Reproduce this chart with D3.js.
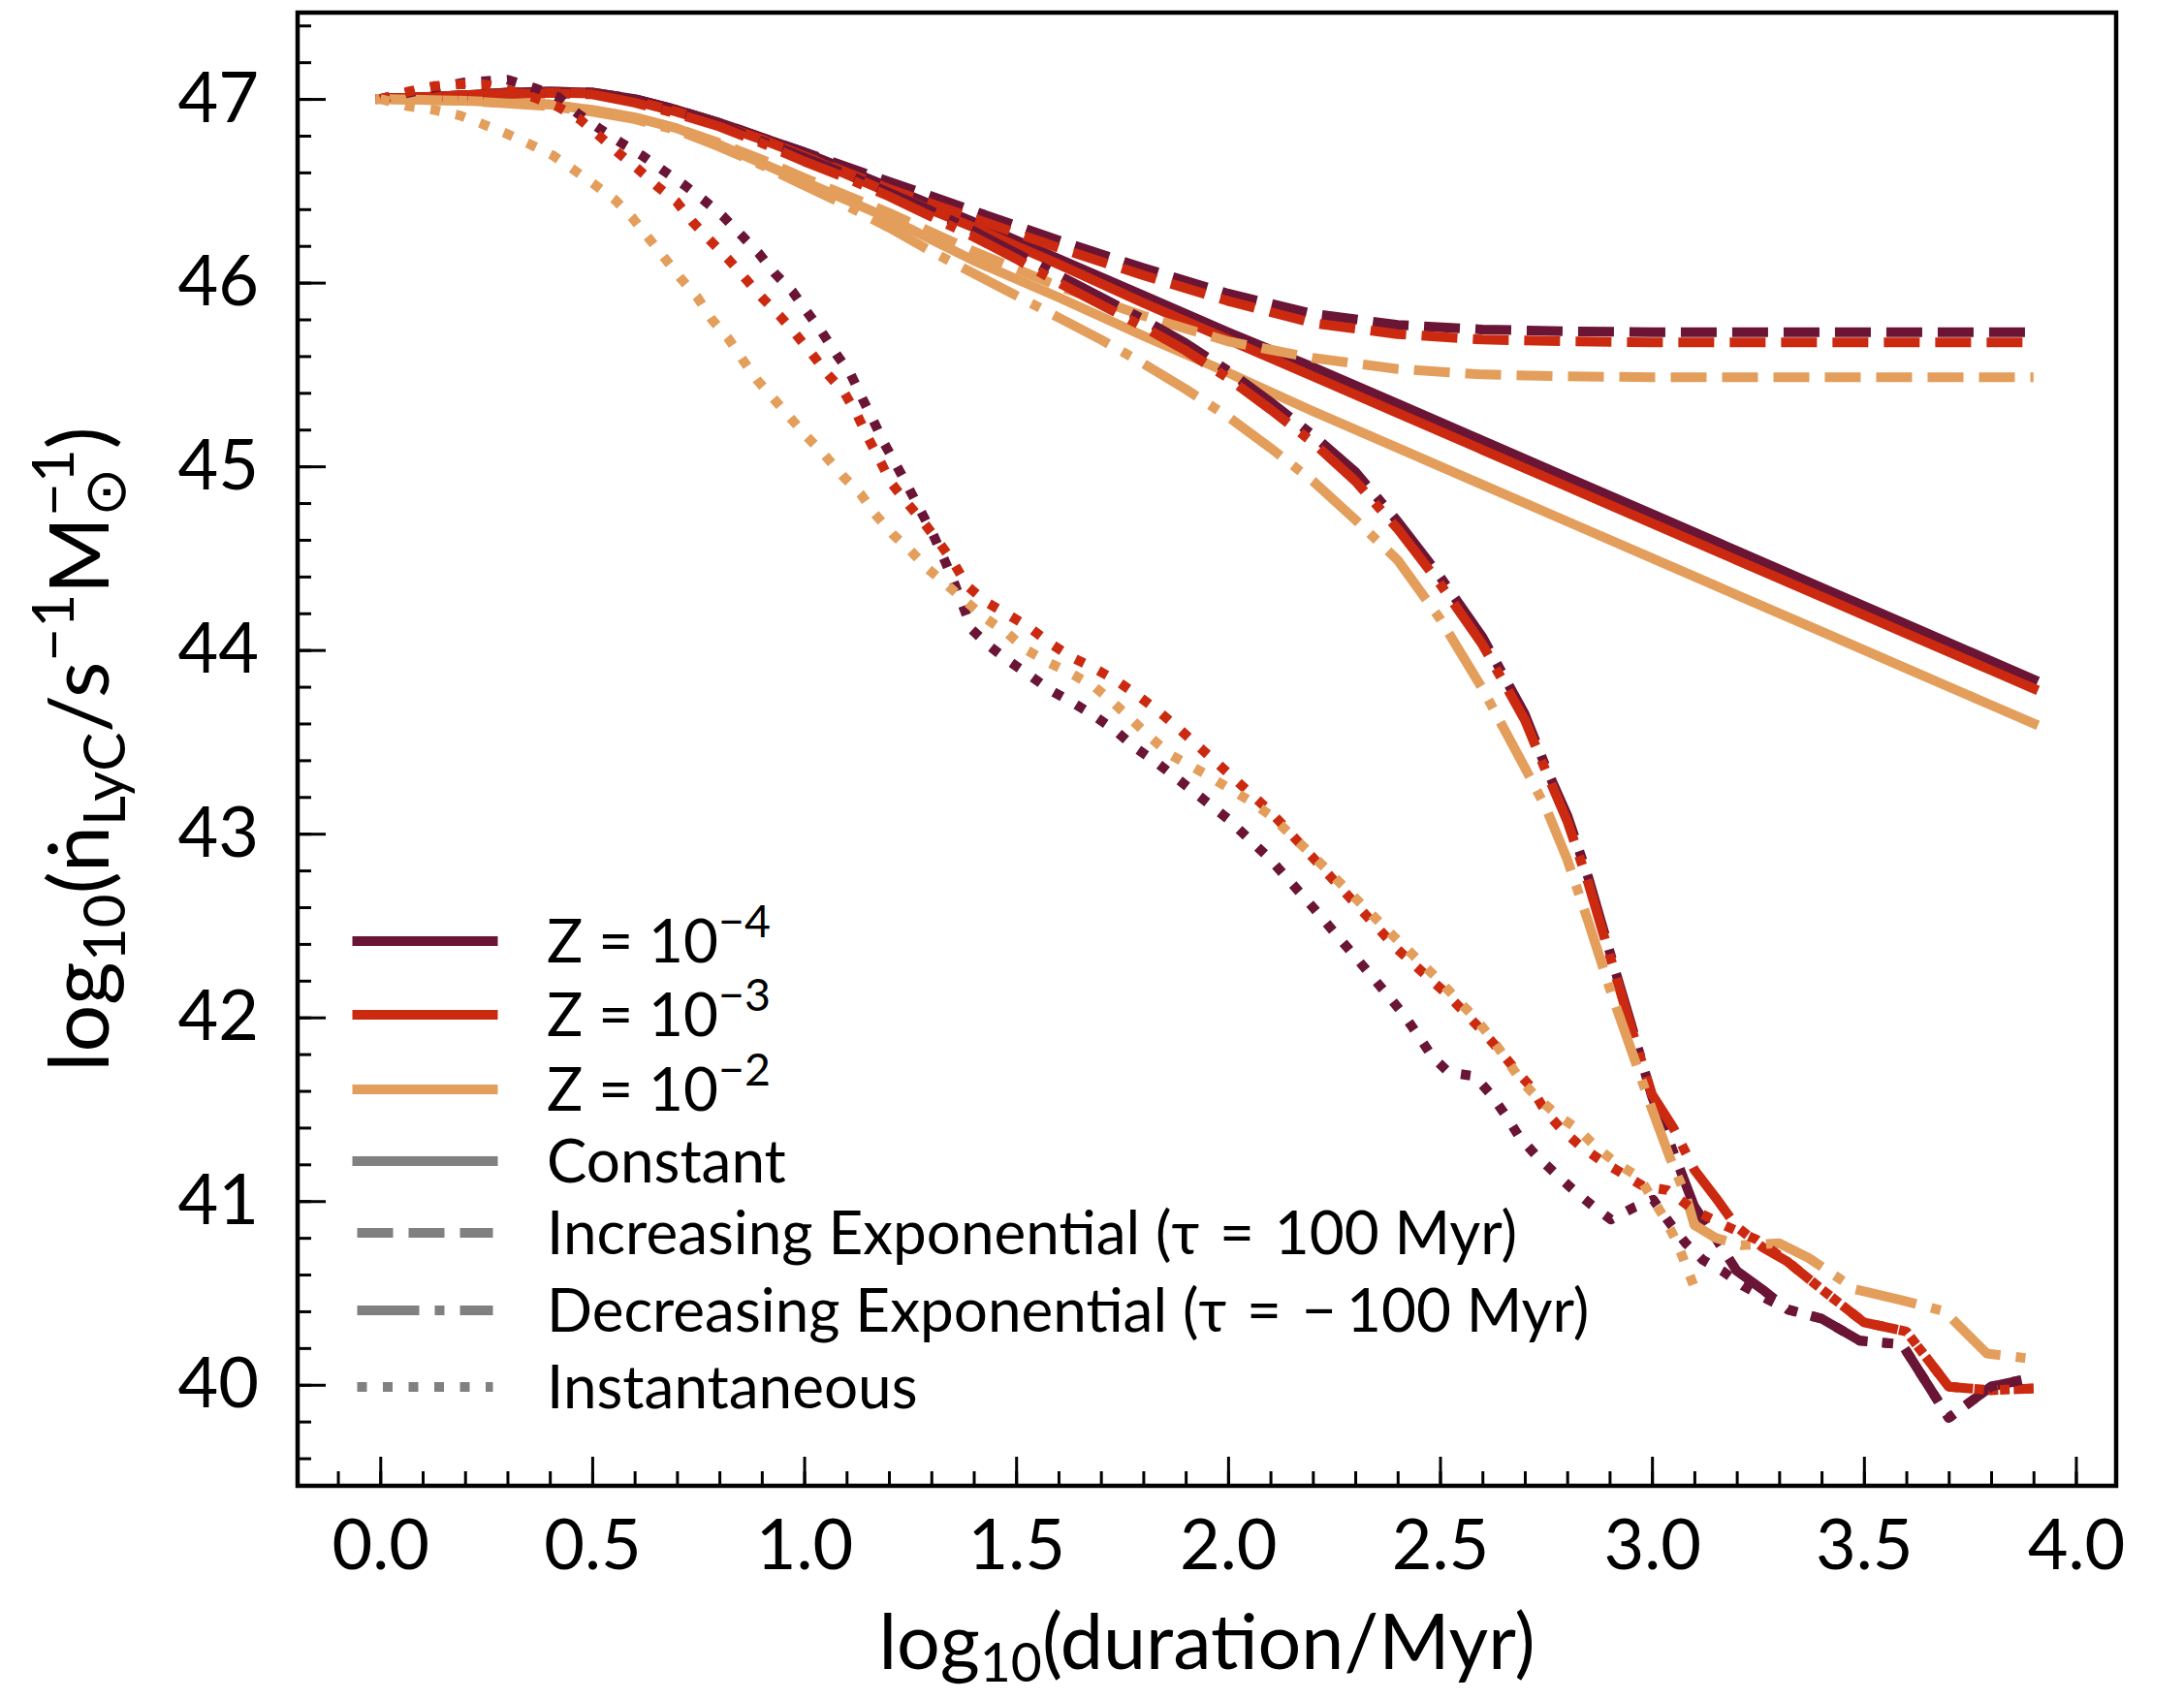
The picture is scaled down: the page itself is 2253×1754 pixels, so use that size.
<!DOCTYPE html>
<html>
<head>
<meta charset="utf-8">
<script src="https://cdn.jsdelivr.net/npm/d3@7"></script>
<style>
  body { margin: 0; background: #fff; }
  svg { display: block; }
  text { font-family: Lato, "Open Sans", "DejaVu Sans", sans-serif; fill: #000; }
</style>
</head>
<body>
<svg id="chart" width="2253" height="1754"></svg>
<script>
// ---- Data: log10(LyC photon rate per solar mass) vs log10(duration / Myr) ----
// Metallicities (colour) and star-formation histories (line style)
const metallicities = ["Z4", "Z3", "Z2"];
const metallicityExponents = ["\u22124", "\u22123", "\u22122"];
const historyLabels = [
  "Constant",
  "Increasing Exponential (\u03c4\u2004=\u2004100 Myr)",
  "Decreasing Exponential (\u03c4\u2004=\u2004\u2212\u2006100 Myr)",
  "Instantaneous"
];

// Constant star formation
const constZ4 = [[0,47.0],[0.1,47.01],[0.2,47.02],[0.3,47.035],[0.4,47.04],[0.5,47.035],[0.6,47.0],[0.7,46.94],[0.8,46.87],[0.9,46.79],[1.0,46.71],[1.2,46.52],[1.4,46.33],[1.6,46.13],[1.8,45.93],[2.0,45.73],[2.2,45.54],[2.4,45.34],[2.6,45.14],[2.8,44.94],[3.0,44.74],[3.2,44.54],[3.4,44.34],[3.6,44.14],[3.8,43.94],[3.9,43.84]];
const constZ3 = [[0,47.0],[0.1,47.01],[0.2,47.02],[0.3,47.03],[0.4,47.035],[0.5,47.03],[0.6,46.99],[0.7,46.93],[0.8,46.86],[0.9,46.78],[1.0,46.69],[1.2,46.49],[1.4,46.30],[1.6,46.10],[1.8,45.89],[2.0,45.69],[2.2,45.49],[2.4,45.29],[2.6,45.09],[2.8,44.89],[3.0,44.69],[3.2,44.49],[3.4,44.29],[3.6,44.09],[3.8,43.89],[3.9,43.79]];
const constZ2 = [[0,47.0],[0.2,46.99],[0.4,46.97],[0.5,46.94],[0.6,46.90],[0.7,46.84],[0.8,46.75],[0.9,46.65],[1.0,46.55],[1.2,46.35],[1.4,46.12],[1.6,45.92],[1.8,45.71],[2.0,45.51],[2.2,45.30],[2.4,45.10],[2.6,44.90],[2.8,44.70],[3.0,44.50],[3.2,44.30],[3.4,44.10],[3.6,43.90],[3.8,43.70],[3.9,43.60]];

// Increasing exponential, tau = 100 Myr
const incZ4 = [[0,47.0],[0.1,47.01],[0.2,47.02],[0.3,47.035],[0.4,47.04],[0.5,47.035],[0.6,47.0],[0.7,46.94],[0.8,46.87],[0.9,46.79],[1.0,46.71],[1.1,46.63],[1.2,46.55],[1.3,46.47],[1.4,46.39],[1.5,46.31],[1.6,46.23],[1.8,46.08],[2.0,45.94],[2.2,45.83],[2.4,45.77],[2.6,45.745],[2.8,45.735],[3.0,45.73],[3.5,45.73],[3.9,45.73]];
const incZ3 = [[0,47.0],[0.1,47.01],[0.2,47.02],[0.3,47.03],[0.4,47.035],[0.5,47.03],[0.6,46.99],[0.7,46.93],[0.8,46.86],[0.9,46.78],[1.0,46.69],[1.1,46.60],[1.2,46.51],[1.3,46.43],[1.4,46.35],[1.5,46.27],[1.6,46.19],[1.8,46.04],[2.0,45.90],[2.2,45.78],[2.4,45.72],[2.6,45.69],[2.8,45.68],[3.0,45.675],[3.5,45.675],[3.9,45.675]];
const incZ2 = [[0,47.0],[0.2,46.99],[0.4,46.97],[0.5,46.94],[0.6,46.90],[0.7,46.84],[0.8,46.76],[0.9,46.67],[1.0,46.57],[1.2,46.38],[1.4,46.17],[1.6,45.98],[1.8,45.82],[2.0,45.68],[2.2,45.59],[2.4,45.53],[2.6,45.50],[2.8,45.49],[3.0,45.485],[3.5,45.485],[3.9,45.485]];

// Decreasing exponential, tau = -100 Myr
const decZ4 = [[0,47.0],[0.1,47.01],[0.2,47.02],[0.3,47.03],[0.4,47.035],[0.5,47.03],[0.6,46.99],[0.7,46.93],[0.8,46.86],[0.9,46.77],[1.0,46.68],[1.1,46.59],[1.2,46.49],[1.3,46.39],[1.4,46.28],[1.5,46.16],[1.6,46.04],[1.7,45.92],[1.8,45.80],[1.9,45.67],[2.0,45.52],[2.1,45.35],[2.2,45.17],[2.3,44.97],[2.4,44.70],[2.5,44.40],[2.6,44.07],[2.7,43.65],[2.75,43.36],[2.8,43.10],[2.85,42.76],[2.9,42.36],[2.95,41.97],[3.0,41.57],[3.05,41.27],[3.1,40.97],[3.15,40.80],[3.2,40.62],[3.26,40.52],[3.32,40.41],[3.4,40.36],[3.49,40.24],[3.59,40.22],[3.7,39.82],[3.8,39.99],[3.9,40.04]];
const decZ3 = [[0,47.0],[0.1,47.01],[0.2,47.02],[0.3,47.03],[0.4,47.03],[0.5,47.025],[0.6,46.98],[0.7,46.92],[0.8,46.85],[0.9,46.76],[1.0,46.66],[1.1,46.57],[1.2,46.47],[1.3,46.36],[1.4,46.25],[1.5,46.13],[1.6,46.00],[1.7,45.88],[1.8,45.76],[1.9,45.63],[2.0,45.48],[2.1,45.31],[2.2,45.13],[2.3,44.92],[2.4,44.66],[2.5,44.36],[2.6,44.03],[2.7,43.62],[2.75,43.34],[2.8,43.07],[2.85,42.73],[2.9,42.34],[2.95,41.95],[3.0,41.58],[3.05,41.40],[3.1,41.17],[3.15,41.02],[3.2,40.86],[3.26,40.75],[3.32,40.67],[3.4,40.52],[3.5,40.34],[3.6,40.29],[3.7,39.99],[3.8,39.97],[3.9,39.98]];
const decZ2 = [[0,47.0],[0.2,46.99],[0.4,46.96],[0.5,46.93],[0.6,46.89],[0.7,46.83],[0.8,46.74],[0.9,46.64],[1.0,46.53],[1.1,46.42],[1.2,46.30],[1.3,46.17],[1.4,46.05],[1.5,45.93],[1.6,45.81],[1.7,45.69],[1.8,45.56],[1.9,45.42],[2.0,45.27],[2.1,45.10],[2.2,44.92],[2.3,44.71],[2.4,44.49],[2.5,44.17],[2.6,43.79],[2.7,43.36],[2.75,43.14],[2.8,42.86],[2.85,42.52],[2.9,42.16],[2.95,41.83],[3.0,41.50],[3.04,41.25],[3.08,41.03],[3.1,40.87],[3.15,40.80],[3.21,40.76],[3.3,40.77],[3.37,40.69],[3.48,40.52],[3.59,40.46],[3.69,40.40],[3.79,40.17],[3.9,40.14]];

// Instantaneous burst
const instZ4 = [[0,47.0],[0.1,47.05],[0.2,47.09],[0.3,47.105],[0.363,47.06],[0.42,47.01],[0.466,46.92],[0.516,46.84],[0.569,46.76],[0.619,46.69],[0.668,46.61],[0.718,46.53],[0.763,46.45],[0.809,46.36],[0.851,46.26],[0.893,46.16],[0.931,46.05],[0.973,45.95],[1.007,45.84],[1.042,45.73],[1.076,45.61],[1.11,45.50],[1.137,45.37],[1.163,45.25],[1.19,45.12],[1.219,45.00],[1.247,44.88],[1.274,44.76],[1.304,44.63],[1.327,44.51],[1.35,44.39],[1.373,44.25],[1.396,44.11],[1.438,44.02],[1.483,43.94],[1.533,43.86],[1.582,43.78],[1.636,43.71],[1.685,43.64],[1.735,43.56],[1.78,43.47],[1.83,43.39],[1.88,43.30],[2.0,43.08],[2.1,42.86],[2.2,42.60],[2.3,42.33],[2.377,42.12],[2.416,42.01],[2.449,41.90],[2.482,41.785],[2.521,41.70],[2.582,41.68],[2.62,41.58],[2.654,41.47],[2.687,41.35],[2.726,41.25],[2.77,41.155],[2.815,41.06],[2.859,40.976],[2.903,40.90],[2.959,40.967],[3.003,41.007],[3.042,40.88],[3.08,40.77],[3.12,40.68],[3.169,40.615],[3.214,40.54],[3.269,40.47],[3.32,40.41],[3.4,40.36],[3.49,40.24],[3.59,40.22],[3.7,39.82],[3.8,39.99],[3.9,40.04]];
const instZ3 = [[0,47.0],[0.066,47.04],[0.127,47.07],[0.188,47.08],[0.245,47.08],[0.3,47.05],[0.36,47.01],[0.417,46.96],[0.47,46.89],[0.516,46.80],[0.56,46.71],[0.607,46.62],[0.653,46.525],[0.699,46.44],[0.737,46.33],[0.778,46.23],[0.82,46.13],[0.862,46.02],[0.9,45.92],[0.942,45.82],[0.98,45.72],[1.019,45.61],[1.056,45.50],[1.095,45.40],[1.125,45.28],[1.152,45.15],[1.179,45.03],[1.205,44.91],[1.243,44.80],[1.28,44.70],[1.32,44.58],[1.354,44.47],[1.384,44.35],[1.43,44.26],[1.483,44.19],[1.533,44.12],[1.578,44.04],[1.632,43.96],[1.685,43.90],[1.739,43.83],[1.788,43.75],[1.834,43.67],[1.88,43.58],[2.0,43.33],[2.1,43.12],[2.2,42.87],[2.3,42.62],[2.4,42.37],[2.471,42.22],[2.515,42.13],[2.557,42.03],[2.598,41.93],[2.637,41.83],[2.676,41.72],[2.715,41.62],[2.748,41.49],[2.787,41.39],[2.831,41.30],[2.88,41.22],[2.93,41.15],[2.98,41.08],[3.036,41.06],[3.1,40.95],[3.169,40.87],[3.247,40.79],[3.32,40.67],[3.4,40.52],[3.5,40.34],[3.6,40.29],[3.7,39.99],[3.8,39.97],[3.9,39.98]];
const instZ2 = [[0,47.0],[0.066,46.96],[0.127,46.94],[0.188,46.91],[0.245,46.86],[0.299,46.81],[0.356,46.75],[0.409,46.69],[0.459,46.61],[0.508,46.53],[0.554,46.45],[0.596,46.35],[0.634,46.24],[0.672,46.13],[0.71,46.02],[0.748,45.92],[0.782,45.80],[0.82,45.70],[0.855,45.58],[0.889,45.47],[0.931,45.36],[0.969,45.26],[1.007,45.16],[1.049,45.06],[1.09,44.95],[1.133,44.85],[1.167,44.74],[1.209,44.63],[1.251,44.54],[1.293,44.44],[1.339,44.35],[1.384,44.26],[1.43,44.17],[1.48,44.09],[1.525,44.00],[1.578,43.93],[1.632,43.87],[1.685,43.80],[1.731,43.71],[1.773,43.62],[1.819,43.52],[1.864,43.43],[1.95,43.32],[2.05,43.18],[2.1,43.10],[2.2,42.88],[2.3,42.65],[2.4,42.42],[2.499,42.20],[2.543,42.09],[2.582,42.0],[2.62,41.89],[2.654,41.78],[2.693,41.65],[2.731,41.56],[2.776,41.47],[2.826,41.39],[2.87,41.29],[2.92,41.20],[2.97,41.13],[3.03,40.905],[3.058,40.78],[3.08,40.65],[3.1,40.53]];

// Axis ticks
const xMajorTicks = [0.0, 0.5, 1.0, 1.5, 2.0, 2.5, 3.0, 3.5, 4.0];
const yMajorTicks = [40, 41, 42, 43, 44, 45, 46, 47];

// ---- Styles ----
const colours = { Z4: "#6a1535", Z3: "#cc2a10", Z2: "#e39e5c" };
const legendGrey = "#808080";
const LW = 10;
const styles = {
  solid:   { dash: null,            cap: "square" },
  dashed:  { dash: "37,16",         cap: "butt" },
  dashdot: { dash: "64,16,10,16",   cap: "butt" },
  dotted:  { dash: "10,16.5",       cap: "butt" }
};

// Drawing order: each history in turn, all metallicities inside it
const series = [
  { style: "solid",   Z: "Z4", data: constZ4 }, { style: "solid",   Z: "Z3", data: constZ3 }, { style: "solid",   Z: "Z2", data: constZ2 },
  { style: "dashed",  Z: "Z4", data: incZ4 },   { style: "dashed",  Z: "Z3", data: incZ3 },   { style: "dashed",  Z: "Z2", data: incZ2 },
  { style: "dashdot", Z: "Z4", data: decZ4 },   { style: "dashdot", Z: "Z3", data: decZ3 },   { style: "dashdot", Z: "Z2", data: decZ2 },
  { style: "dotted",  Z: "Z4", data: instZ4 },  { style: "dotted",  Z: "Z3", data: instZ3 },  { style: "dotted",  Z: "Z2", data: instZ2 }
];

// ---- Layout ----
const plot = { left: 307, right: 2183, top: 13, bottom: 1533 };
const svg = d3.select("#chart");

const x = d3.scaleLinear().domain([-0.195, 4.095]).range([plot.left, plot.right]);
const y = d3.scaleLinear().domain([39.45, 47.47]).range([plot.bottom, plot.top]);

const tickFont = 72;

// Minor ticks (no labels)
const xMinor = d3.range(-1, 41).map(i => i / 10).filter(v => v > -0.195 && v < 4.095);
const yMinor = d3.range(197, 238).map(i => i / 5).filter(v => v > 39.45 && v < 47.47);

const xAxisMinor = d3.axisBottom(x).tickValues(xMinor).tickSize(-15).tickFormat("");
const xAxisMajor = d3.axisBottom(x).tickValues(xMajorTicks).tickSize(-30).tickPadding(35).tickFormat(d3.format(".1f"));
const yAxisMinor = d3.axisLeft(y).tickValues(yMinor).tickSize(-14).tickFormat("");
const yAxisMajor = d3.axisLeft(y).tickValues(yMajorTicks).tickSize(-29).tickPadding(40).tickFormat(d3.format("d"));

function styleAxis(g) {
  g.select(".domain").remove();
  g.selectAll(".tick line").attr("stroke", "#000").attr("stroke-width", 3);
  g.selectAll(".tick text").attr("font-size", tickFont).attr("fill", "#000")
    .style("font-family", "Lato, 'Open Sans', sans-serif");
}

svg.append("g").attr("transform", `translate(0,${plot.bottom})`).call(xAxisMinor).call(styleAxis);
svg.append("g").attr("transform", `translate(0,${plot.bottom})`).call(xAxisMajor).call(styleAxis);
svg.append("g").attr("transform", `translate(${plot.left},0)`).call(yAxisMinor).call(styleAxis);
svg.append("g").attr("transform", `translate(${plot.left},0)`).call(yAxisMajor).call(styleAxis);

// ---- Curves ----
const line = d3.line().x(d => x(d[0])).y(d => y(d[1]));
const curves = svg.append("g").attr("class", "curves");
series.forEach(s => {
  const st = styles[s.style];
  curves.append("path")
    .datum(s.data)
    .attr("d", line)
    .attr("fill", "none")
    .attr("stroke", colours[s.Z])
    .attr("stroke-width", LW)
    .attr("stroke-linejoin", "round")
    .attr("stroke-linecap", st.cap)
    .attr("stroke-dasharray", st.dash);
});

// ---- Frame ----
svg.append("rect")
  .attr("x", plot.left).attr("y", plot.top)
  .attr("width", plot.right - plot.left).attr("height", plot.bottom - plot.top)
  .attr("fill", "none").attr("stroke", "#000").attr("stroke-width", 4.5);

// ---- Rich text helper (sub/superscripts) ----
function richText(textSel, parts, size) {
  let cur = 0;
  let prev = null;
  parts.forEach(p => {
    const off = p.s === "sub" ? (p.shift || 0.2) * size : p.s === "sup" ? -0.42 * size : 0;
    const ts = textSel.append("tspan").text(p.t).attr("dy", off - cur);
    if (p.s) ts.attr("font-size", size * (p.scale || 0.7));
    if (p.stackOn && prev) ts.attr("dx", -prev.node().getComputedTextLength());
    cur = off;
    prev = ts;
  });
}

// ---- Axis labels ----
const xLabelSize = 79;
const xLabel = svg.append("text")
  .attr("x", (plot.left + plot.right) / 2).attr("y", 1722)
  .attr("text-anchor", "middle").attr("font-size", xLabelSize);
richText(xLabel, [{ t: "log" }, { t: "10", s: "sub", shift: 0.16 }, { t: "(duration/Myr)" }], xLabelSize);

const yLabelSize = 86;
const yLabel = svg.append("text")
  .attr("transform", `translate(112,${(plot.top + plot.bottom) / 2}) rotate(-90)`)
  .attr("text-anchor", "middle").attr("font-size", yLabelSize);
richText(yLabel, [
  { t: "log" }, { t: "10", s: "sub" }, { t: "(\u1e45" }, { t: "LyC", s: "sub" },
  { t: "/s" }, { t: "\u22121", s: "sup" }, { t: "M" }, { t: "\u2299", s: "sub" },
  { t: "\u22121", s: "sup", stackOn: true }, { t: ")" }
], yLabelSize);

// ---- Legend ----
const legendFont = 62;
const legendRows = [971, 1047, 1124, 1198, 1272, 1352, 1431];
const handleX0 = 368.5, handleX1 = 508.5, labelX = 564;
const legendEntries = [
  ...metallicities.map((z, i) => ({ colour: colours[z], style: "solid", label: [{ t: "Z = 10" }, { t: metallicityExponents[i], s: "sup", scale: 0.75 }] })),
  { colour: legendGrey, style: "solid",   label: [{ t: historyLabels[0] }] },
  { colour: legendGrey, style: "dashed",  label: [{ t: historyLabels[1] }] },
  { colour: legendGrey, style: "dashdot", label: [{ t: historyLabels[2] }] },
  { colour: legendGrey, style: "dotted",  label: [{ t: historyLabels[3] }] }
];
const legend = svg.append("g").attr("class", "legend");
legendEntries.forEach((e, i) => {
  const yy = legendRows[i];
  const st = styles[e.style];
  legend.append("line")
    .attr("x1", handleX0).attr("x2", handleX1).attr("y1", yy).attr("y2", yy)
    .attr("stroke", e.colour).attr("stroke-width", LW)
    .attr("stroke-linecap", st.cap).attr("stroke-dasharray", st.dash);
  const t = legend.append("text").attr("x", labelX).attr("y", yy + 22).attr("font-size", legendFont);
  richText(t, e.label, legendFont);
});
</script>
</body>
</html>
